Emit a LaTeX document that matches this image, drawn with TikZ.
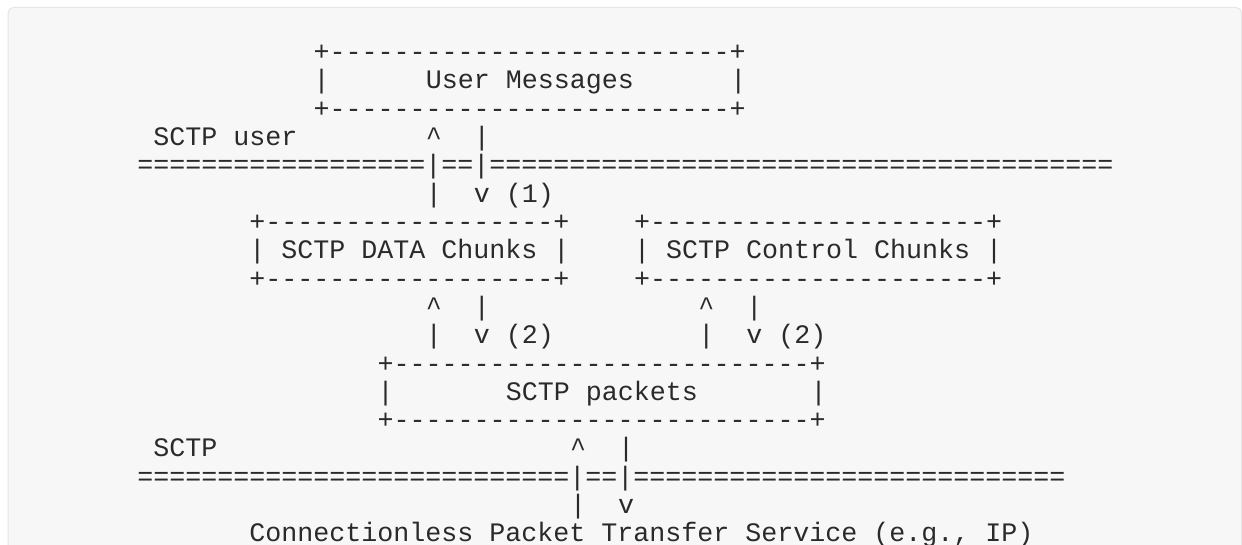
\documentclass[tikz,border=0pt]{standalone}
\usepackage{fontspec}
\setmonofont{Liberation Mono}
\usepackage{xcolor}
\usepackage{tikz}
\definecolor{ink}{HTML}{2A2A2A}
\definecolor{panel}{HTML}{F7F7F7}
\definecolor{panelline}{HTML}{E6E6E6}
\ExplSyntaxOn
\cs_new:Npn \dup #1#2 { \prg_replicate:nn {#1} {#2} }
\ExplSyntaxOff
% character grid of the drawing (pixels)
\newcommand\colx[1]{137+#1*16.03}
\newcommand\rowy[1]{-(60.7+(#1-1)*28.3)}
\frenchspacing

\begin{document}
\begin{tikzpicture}[x=0.75pt,y=0.75pt]
\tikzset{ascii/.style={font=\ttfamily\fontsize{20}{24}\selectfont,text=ink,inner sep=0pt,anchor=base west}}
\useasboundingbox (0,0) rectangle (1242,-545);
\clip (0,0) rectangle (1242,-545);
\path[fill=panel,draw=panelline,line width=0.75pt,rounded corners=4] (8,-580) -- (8,-7.5) -- (1241.5,-7.5) -- (1241.5,-580);
% user messages
\node[ascii] (usrtop) at ({\colx{11}},{\rowy{1}}) {+\dup{25}{-}+};
\node[ascii] (usrl) at ({\colx{11}},{\rowy{2}}) {|};
\node[ascii] (usrtxt) at ({\colx{18}},{\rowy{2}}) {User Messages};
\node[ascii] (usrr) at ({\colx{37}},{\rowy{2}}) {|};
\node[ascii] (usrbot) at ({\colx{11}},{\rowy{3}}) {+\dup{25}{-}+};
\node[ascii] (lbluser) at ({\colx{1}},{\rowy{4}}) {SCTP user};
\node[ascii] (upuser) at ({\colx{18}},{\rowy{4}}) {\textasciicircum};
\node[ascii] (dnuser) at ({\colx{21}},{\rowy{4}}) {|};
\node[ascii] (sepuser) at ({\colx{0}},{\rowy{5}}) {\dup{18}{=}|==|\dup{39}{=}};
\node[ascii] (upuserb) at ({\colx{18}},{\rowy{6}}) {|};
\node[ascii] (dnuserb) at ({\colx{21}},{\rowy{6}}) {v (1)};
% chunks
\node[ascii] (datatop) at ({\colx{7}},{\rowy{7}}) {+\dup{18}{-}+};
\node[ascii] (ctrltop) at ({\colx{31}},{\rowy{7}}) {+\dup{21}{-}+};
\node[ascii] (datatxt) at ({\colx{7}},{\rowy{8}}) {| SCTP DATA Chunks |};
\node[ascii] (ctrltxt) at ({\colx{31}},{\rowy{8}}) {| SCTP Control Chunks |};
\node[ascii] (databot) at ({\colx{7}},{\rowy{9}}) {+\dup{18}{-}+};
\node[ascii] (ctrlbot) at ({\colx{31}},{\rowy{9}}) {+\dup{21}{-}+};
\node[ascii] (updata) at ({\colx{18}},{\rowy{10}}) {\textasciicircum};
\node[ascii] (dndata) at ({\colx{21}},{\rowy{10}}) {|};
\node[ascii] (upctrl) at ({\colx{35}},{\rowy{10}}) {\textasciicircum};
\node[ascii] (dnctrl) at ({\colx{38}},{\rowy{10}}) {|};
\node[ascii] (updatab) at ({\colx{18}},{\rowy{11}}) {|};
\node[ascii] (dndatab) at ({\colx{21}},{\rowy{11}}) {v (2)};
\node[ascii] (upctrlb) at ({\colx{35}},{\rowy{11}}) {|};
\node[ascii] (dnctrlb) at ({\colx{38}},{\rowy{11}}) {v (2)};
% packets
\node[ascii] (pkttop) at ({\colx{15}},{\rowy{12}}) {+\dup{26}{-}+};
\node[ascii] (pktl) at ({\colx{15}},{\rowy{13}}) {|};
\node[ascii] (pkttxt) at ({\colx{23}},{\rowy{13}}) {SCTP packets};
\node[ascii] (pktr) at ({\colx{42}},{\rowy{13}}) {|};
\node[ascii] (pktbot) at ({\colx{15}},{\rowy{14}}) {+\dup{26}{-}+};
\node[ascii] (lblsctp) at ({\colx{1}},{\rowy{15}}) {SCTP};
\node[ascii] (uppkt) at ({\colx{27}},{\rowy{15}}) {\textasciicircum};
\node[ascii] (dnpkt) at ({\colx{30}},{\rowy{15}}) {|};
\node[ascii] (sepsctp) at ({\colx{0}},{\rowy{16}}) {\dup{27}{=}|==|\dup{27}{=}};
\node[ascii] (uppktb) at ({\colx{27}},{\rowy{17}}) {|};
\node[ascii] (dnpktb) at ({\colx{30}},{\rowy{17}}) {v};
\node[ascii] (iplayer) at ({\colx{7}},{\rowy{18}}) {Connectionless Packet Transfer Service (e.g., IP)};
\end{tikzpicture}
\end{document}
